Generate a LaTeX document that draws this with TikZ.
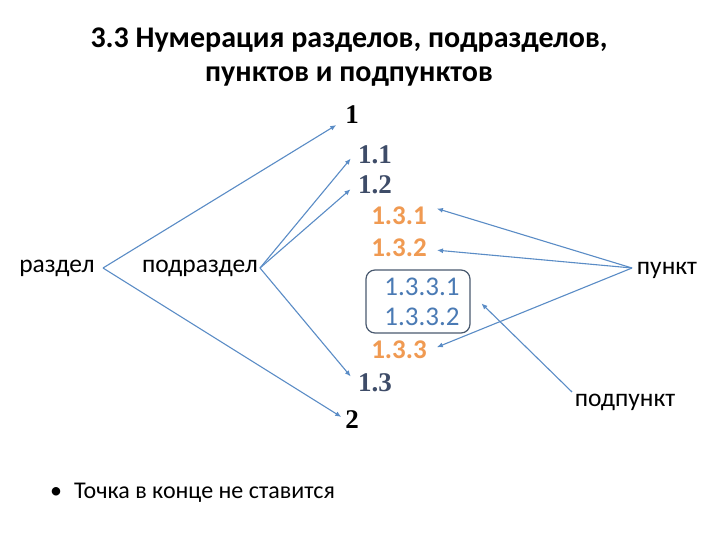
\documentclass[tikz,border=0pt]{standalone}
\usepackage{fontspec}
\setmainfont{Carlito}
\newfontfamily\numserif{Liberation Serif}
\usetikzlibrary{arrows.meta}
\definecolor{arr}{HTML}{5A8CC6}
\definecolor{navyn}{HTML}{3E4C68}
\definecolor{orangen}{HTML}{F09A52}
\definecolor{bluen}{HTML}{4A7AB4}
\definecolor{boxc}{HTML}{4A5A70}
\tikzset{
  lbl/.style={inner sep=0pt, font=\fontsize{25.5}{28}\selectfont},
  numa/.style={inner sep=0pt, font=\numserif\bfseries\fontsize{27}{30}\selectfont, text=black},
  numb/.style={inner sep=0pt, font=\numserif\bfseries\fontsize{27}{30}\selectfont, text=navyn},
  numc/.style={inner sep=0pt, font=\bfseries\fontsize{27}{30}\selectfont, text=orangen},
  numd/.style={inner sep=0pt, font=\fontsize{27}{30}\selectfont, text=bluen},
  con/.style={draw=arr, line width=1.1pt, -{Latex[length=6pt,width=5pt]}, shorten >=2pt}
}
\begin{document}
\begin{tikzpicture}[x=1pt,y=-1pt]
\useasboundingbox (0,0) rectangle (720,540);
\fill[white] (0,0) rectangle (720,540);
\node[inner sep=0pt, align=center, font=\bfseries\fontsize{30}{34}\selectfont] (title) at (349,57)
  {3.3 Нумерация разделов, подразделов,\\пунктов и подпунктов};
% labels
\node[lbl] (razdel) at (57,268) {раздел};
\node[lbl] (podrazdel) at (200,268) {подраздел};
\node[lbl] (punkt) at (667,270) {пункт};
\node[lbl] (podpunkt) at (625,402) {подпункт};
\coordinate (rv) at (103,268);
\coordinate (pv) at (260,268);
\coordinate (kv) at (632,268);
\coordinate (ppv) at (572,392);
% numbers
\node[numa] (n1) at (352,115) {1};
\node[numb] (n11) at (375,155) {1.1};
\node[numb] (n12) at (375,185) {1.2};
\node[numc] (n131) at (399,216) {1.3.1};
\node[numc] (n132) at (399,248) {1.3.2};
\draw[boxc, line width=1.2pt, rounded corners=9pt] (366,270) rectangle (470,333);
\node[numd] (n1331) at (422,287) {1.3.3.1};
\node[numd] (n1332) at (422,317) {1.3.3.2};
\coordinate (boxe) at (480,302);
\node[numc] (n133) at (399,350) {1.3.3};
\node[numb] (n13) at (375,383) {1.3};
\node[numa] (n2) at (352,420) {2};
% bullet
\node[inner sep=0pt, font=\fontsize{24}{28}\selectfont, anchor=west] (bullet) at (50,493) {\textbullet\hspace{12pt}Точка в конце не ставится};
% connectors
\draw[con] (rv) -- (338,124);
\draw[con] (rv) -- (343,418);
\draw[con] (pv) -- (352,157);
\draw[con] (pv) -- (352,188);
\draw[con] (pv) -- (352,378);
\draw[con] (kv) -- (435,208);
\draw[con] (kv) -- (435,250);
\draw[con] (kv) -- (435,348);
\draw[con] (ppv) -- (boxe);
\end{tikzpicture}
\end{document}
